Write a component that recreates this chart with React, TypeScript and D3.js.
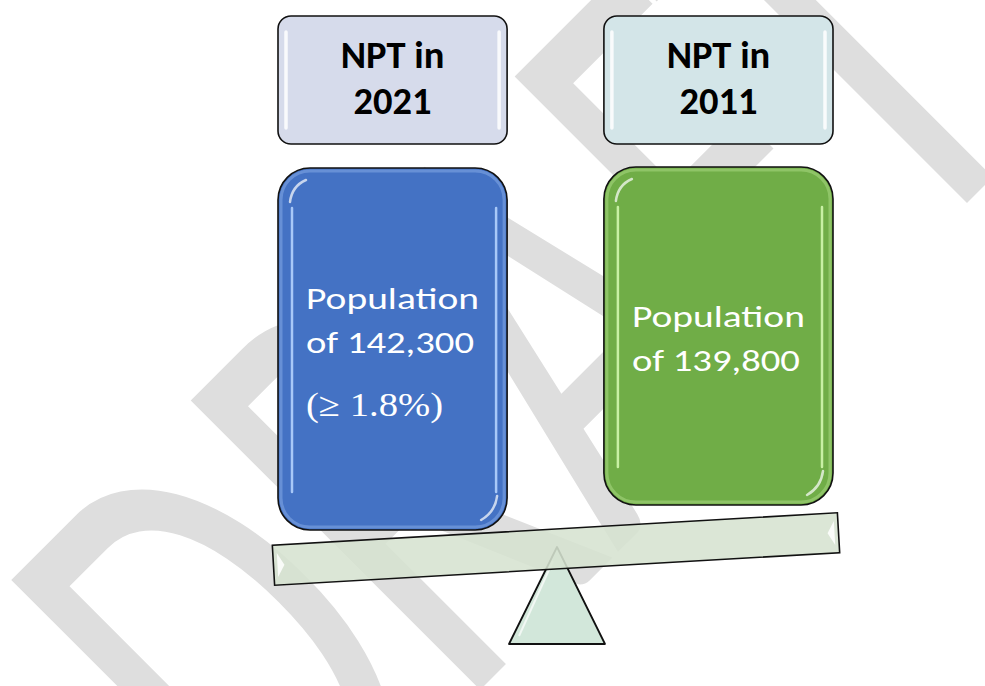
import React from "react";
import * as d3 from "d3";

// ---- data ----
const years: string[] = ["2021", "2011"];
const headerPrefix: string[] = ["NPT in", "NPT in"];
const populations: number[] = [142300, 139800];
const changeLabels: string[] = ["(≥ 1.8%)", ""];
const watermarkHead = "DRAF";
const watermarkTail = "T";

// ---- styles ----
const headerFills: string[] = ["#d6dbeb", "#d3e5e8"];
const boxFills: string[] = ["#4472c4", "#70ad47"];
const boxGlints: string[] = ["#a8c8f8", "#c8f0a4"];

const W = 985;
const H = 686;
const FONT = "Carlito, Calibri, Lato, 'Open Sans', sans-serif";

export default function App() {
  const x = d3
    .scaleBand<string>()
    .domain(years)
    .range([278, 833])
    .paddingInner(0.297)
    .paddingOuter(0);
  const bw = x.bandwidth();
  const fmt = d3.format(",");

  const headerTop = 16;
  const headerBottom = 144;
  const boxTop = [168, 167];
  const boxBottom = [530, 505];

  // seesaw geometry
  const pivot = { x: 557, y: 547 };
  const triBase = 644;
  const triHalf = 48;
  const plankCenter = { x: 556, y: 549 };
  const plankLen = 566;
  const plankThick = 40;
  const plankAngle = -3.3;

  return (
    <svg
      width={W}
      height={H}
      viewBox={`0 0 ${W} ${H}`}
      style={{ position: "absolute", left: 0, top: 0, display: "block" }}
    >
      <rect width={W} height={H} fill="#ffffff" />
      {/* watermark */}
      <text
        transform="translate(281,889) rotate(-45) scale(1,1.556)"
        fontFamily={FONT}
        fontSize={410}
        fill="#dedede"
      >
        {watermarkHead}
        <tspan dx={-12}>{watermarkTail}</tspan>
      </text>

      {years.map((yr, i) => {
        const x0 = x(yr) as number;
        const cx = x0 + bw / 2;
        const t = boxTop[i];
        const b = boxBottom[i];
        const cy = (t + b) / 2;
        const hasChange = changeLabels[i] !== "";
        const base1 = cy - 9 - (hasChange ? 31 : 0);
        const r = 32;
        return (
          <g key={yr}>
            {/* header */}
            <rect
              x={x0}
              y={headerTop}
              width={bw}
              height={headerBottom - headerTop}
              rx={13}
              fill={headerFills[i]}
              stroke="#111"
              strokeWidth={1.6}
            />
            <line x1={x0 + 8} x2={x0 + 8} y1={headerTop + 16} y2={headerBottom - 16} stroke="#fff" strokeOpacity={0.85} strokeWidth={3.5} strokeLinecap="round" />
            <line x1={x0 + bw - 8} x2={x0 + bw - 8} y1={headerTop + 16} y2={headerBottom - 16} stroke="#fff" strokeOpacity={0.85} strokeWidth={3.5} strokeLinecap="round" />
            <text x={cx} y={68} textAnchor="middle" fontFamily={FONT} fontWeight={700} fontSize={38.5} fill="#000">
              {headerPrefix[i]}
            </text>
            <text x={cx} y={114} textAnchor="middle" fontFamily={FONT} fontWeight={700} fontSize={38.5} fill="#000">
              {yr}
            </text>

            {/* population box */}
            <rect x={x0} y={t} width={bw} height={b - t} rx={r} fill={boxFills[i]} stroke="#111" strokeWidth={1.6} />
            <rect x={x0 + 3} y={t + 3} width={bw - 6} height={b - t - 6} rx={r - 3} fill="none" stroke={boxGlints[i]} strokeOpacity={0.35} strokeWidth={3} />
            <line x1={x0 + 14} x2={x0 + 14} y1={t + 40} y2={b - 38} stroke={boxGlints[i]} strokeWidth={2.5} strokeLinecap="round" />
            <line x1={x0 + bw - 11} x2={x0 + bw - 11} y1={t + 40} y2={b - 38} stroke={boxGlints[i]} strokeWidth={2.5} strokeLinecap="round" />
            <path d={`M${x0 + 12},${t + 34} Q${x0 + 14},${t + 18} ${x0 + 28},${t + 12}`} fill="none" stroke="#fff" strokeOpacity={0.7} strokeWidth={2.5} strokeLinecap="round" />
            <path d={`M${x0 + bw - 10},${b - 34} Q${x0 + bw - 12},${b - 18} ${x0 + bw - 26},${b - 10}`} fill="none" stroke="#fff" strokeOpacity={0.7} strokeWidth={2.5} strokeLinecap="round" />
            <text x={x0 + 28} y={base1} fontFamily={FONT} fontSize={31} fill="#fff" textLength={173} lengthAdjust="spacingAndGlyphs">
              Population
            </text>
            <text x={x0 + 28} y={base1 + 44} fontFamily={FONT} fontSize={31} fill="#fff" textLength={168} lengthAdjust="spacingAndGlyphs">
              {`of ${fmt(populations[i])}`}
            </text>
            {hasChange && (
              <text x={x0 + 28} y={base1 + 107} fontFamily="'Liberation Serif', 'Times New Roman', serif" fontSize={34} fill="#fff" textLength={137} lengthAdjust="spacingAndGlyphs">
                {changeLabels[i]}
              </text>
            )}
          </g>
        );
      })}

      {/* seesaw */}
      <polygon
        points={`${pivot.x},${pivot.y} ${pivot.x + triHalf},${triBase} ${pivot.x - triHalf},${triBase}`}
        fill="#d2e7da"
        stroke="#111"
        strokeWidth={1.8}
        strokeLinejoin="round"
      />
      <line x1={pivot.x - 4} y1={pivot.y + 14} x2={pivot.x - 38} y2={triBase - 8} stroke="#fff" strokeOpacity={0.7} strokeWidth={2} />
      <g transform={`translate(${plankCenter.x},${plankCenter.y}) rotate(${plankAngle})`}>
        <rect
          x={-plankLen / 2}
          y={-plankThick / 2}
          width={plankLen}
          height={plankThick}
          fill="#d6e3d0"
          fillOpacity={0.88}
          stroke="#111"
          strokeWidth={1.6}
        />
        <polygon points={`${-plankLen / 2 + 4},${-12} ${-plankLen / 2 + 11},0 ${-plankLen / 2 + 4},12`} fill="#fff" fillOpacity={0.85} />
        <polygon points={`${plankLen / 2 - 4},${-12} ${plankLen / 2 - 11},0 ${plankLen / 2 - 4},12`} fill="#fff" fillOpacity={0.85} />
      </g>
    </svg>
  );
}
